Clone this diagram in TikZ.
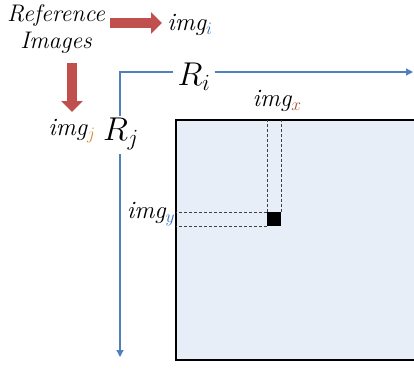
\RequirePackage{fix-cm}
\documentclass[tikz,border=0pt]{standalone}
\usepackage{amsmath,amssymb}
\usepackage{tikz}
\usetikzlibrary{positioning,arrows.meta}
\usepackage{xcolor}
\definecolor{redarrow}{HTML}{C0504D}
\definecolor{axisblue}{HTML}{4F81BD}
\definecolor{boxfill}{HTML}{E8EEF7}
\definecolor{subblue}{HTML}{2E6DB4}
\definecolor{subbrown}{HTML}{A0522D}
\definecolor{subgold}{HTML}{D08A2A}

\begin{document}
\begin{tikzpicture}[x=1pt, y=-1pt,
    lbl/.style={font=\fontsize{25}{28}\selectfont\itshape, inner sep=0pt},
    axlbl/.style={font=\fontsize{33}{38}\selectfont, inner sep=0pt},
    fat/.style={draw=redarrow, line width=10pt, -{Triangle[length=11pt,width=21pt]}, redarrow},
    axis/.style={draw=axisblue, line width=1.3pt},
    guide/.style={densely dashed, line width=0.5pt, black!75}]
    \useasboundingbox (0,0) rectangle (414,369);
    % image plane
    \begin{scope}
      \clip (0,0) rectangle (414,369);
      \draw[fill=boxfill, line width=1.8pt] (176,120) rectangle (430,360);
    \end{scope}
    % labels
    \node[lbl, align=center, font=\fontsize{24}{27}\selectfont\itshape] (ref) at (56,29) {Reference\\Images};
    \node[lbl] (imgi) at (190,25) {img$_{\color{subblue}i}$};
    \node[lbl] (imgj) at (72,131) {img$_{\color{subgold}j}$};
    \node[axlbl] (Ri) at (194,77) {$R_i$};
    \node[axlbl] (Rj) at (121,134) {$R_j$};
    \node[lbl] (imgx) at (277,101) {img$_{\color{subbrown}x}$};
    \node[lbl] (imgy) at (151,214) {img$_{\color{subblue}y}$};
    % red arrows
    \coordinate (rs) at (110,23); \coordinate (re) at (162,23);
    \coordinate (ds) at (72,63); \coordinate (de) at (72,112);
    \draw[fat] (rs) -- (re);
    \draw[fat] (ds) -- (de);
    % axes
    \coordinate (corner) at (120,72);
    \coordinate (iend) at (413,72);
    \coordinate (jend) at (120,357);
    \draw[axis] ([xshift=-4pt]Ri.west |- corner) -- (corner) -- ([yshift=2pt]corner |- Rj.north);
    \draw[axis, -{Triangle[length=7pt,width=7pt]}] ([xshift=4pt]Ri.east |- corner) -- (iend);
    \draw[axis, -{Triangle[length=7pt,width=7pt]}] ([yshift=-4pt]corner |- Rj.south) -- (jend);
    % pixel
    \node[fill=black, minimum size=14pt, inner sep=0pt] (px) at (274,219) {};
    \draw[guide] (px.north west) -- (px.north west |- 0,120);
    \draw[guide] (px.north east) -- (px.north east |- 0,120);
    \draw[guide] (px.north west) -- (px.north west -| 176,0);
    \draw[guide] (px.south west) -- (px.south west -| 176,0);
  \end{tikzpicture}
\end{document}
